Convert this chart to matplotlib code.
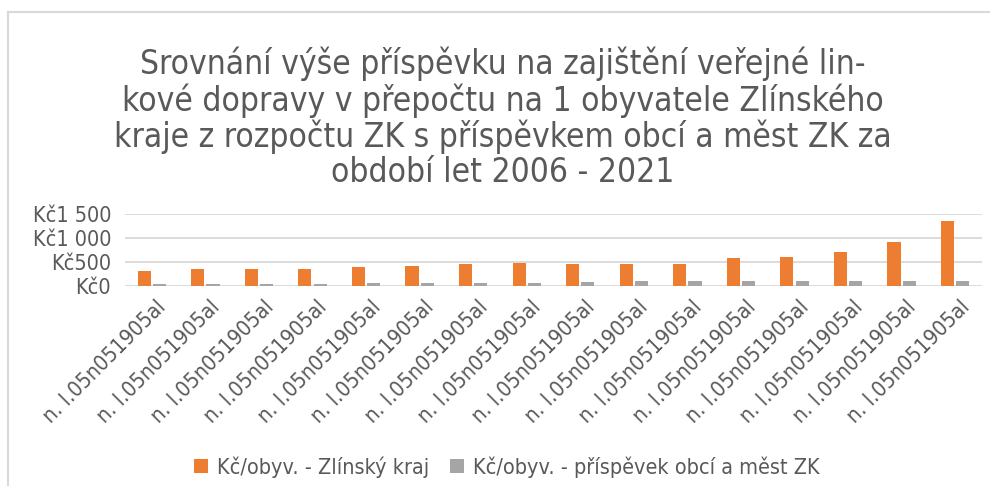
import numpy as np
import matplotlib
matplotlib.use("Agg")
import matplotlib.pyplot as plt
from matplotlib.lines import Line2D
from matplotlib.ticker import FuncFormatter

plt.rcParams['font.family'] = ['DejaVu Sans']
plt.rcParams['font.stretch'] = 'condensed'

# data (Kč per inhabitant)
kategorie = ["n. l.05n051905al"] * 16
kraj = [312, 354, 354, 354, 396, 417, 458, 479, 458, 458, 458, 583, 604, 708, 917, 1354]
obce = [42, 42, 42, 42, 62, 62, 62, 62, 83, 104, 104, 104, 104, 104, 104, 104]
serie_nazvy = ["Kč/obyv. - Zlínský kraj", "Kč/obyv. - příspěvek obcí a měst ZK"]
titulek = ("Srovnání výše příspěvku na zajištění veřejné lin-\n"
           "kové dopravy v přepočtu na 1 obyvatele Zlínského\n"
           "kraje z rozpočtu ZK s příspěvkem obcí a měst ZK za\n"
           "období let 2006 - 2021")

ORANZOVA = "#ED7D31"
SEDA = "#A5A5A5"
TEXT = "#595959"
MRIZKA = "#D9D9D9"

W, H = 990, 486
fig = plt.figure(figsize=(W / 100, H / 100), dpi=100)
ax = fig.add_axes([125 / W, 1 - 286 / H, (982 - 125) / W, (286 - 213.5) / H])

x = np.arange(len(kategorie))
sirka = 0.245
ax.bar(x - sirka / 2 - 0.02, kraj, sirka, color=ORANZOVA, label=serie_nazvy[0], zorder=3)
ax.bar(x + sirka / 2 + 0.02, obce, sirka, color=SEDA, label=serie_nazvy[1], zorder=3)

ax.set_xlim(-0.5, len(kategorie) - 0.5)
ax.set_ylim(0, 1500)
ax.set_yticks([0, 500, 1000, 1500])
ax.yaxis.set_major_formatter(FuncFormatter(lambda v, p: "Kč" + f"{int(v):,}".replace(",", " ")))
ax.grid(axis="y", color=MRIZKA, linewidth=1.3, zorder=0)
for s in ax.spines.values():
    s.set_visible(False)
ax.tick_params(axis="both", length=0, colors=TEXT, labelsize=15.5)
ax.tick_params(axis="y", pad=10)
ax.set_xticks(x + 0.08)
ax.set_xticklabels(kategorie, rotation=45, ha="right", rotation_mode="anchor")
ax.tick_params(axis="x", pad=8)

fig.text(0.508, 1 - 118 / H, titulek, ha="center", va="center", fontsize=24,
         color=TEXT, linespacing=1.08)

fig.legend(loc="center", bbox_to_anchor=(0.512, 1 - 467 / H), ncol=2, frameon=False,
           fontsize=15.5, labelcolor=TEXT, handlelength=0.65, handleheight=0.65,
           handletextpad=0.4, columnspacing=1.0)

# chart frame (only top and left edge visible)
fig.add_artist(Line2D([7.5 / W, 7.5 / W], [0, 1 - 12.5 / H], transform=fig.transFigure,
                      color=MRIZKA, linewidth=1.5))
fig.add_artist(Line2D([7.5 / W, 1], [1 - 12.5 / H, 1 - 12.5 / H], transform=fig.transFigure,
                      color=MRIZKA, linewidth=1.5))

fig.savefig("out.png", dpi=100, facecolor="white")
